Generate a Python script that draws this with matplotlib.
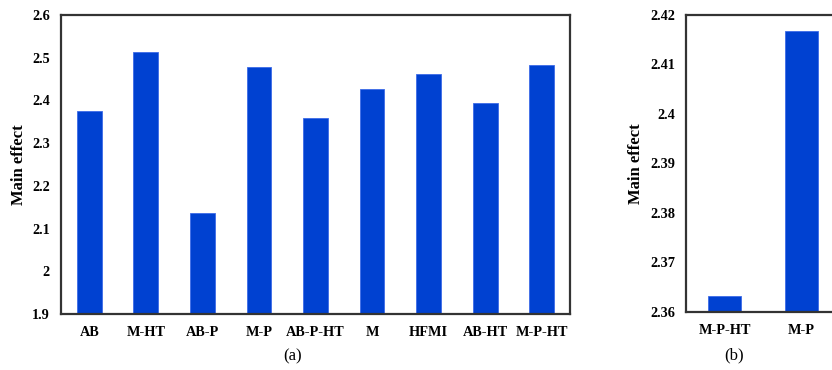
import matplotlib
matplotlib.use("Agg")
import matplotlib.pyplot as plt

# Main effects of each post-treatment condition
cats_a = ["AB", "M-HT", "AB-P", "M-P", "AB-P-HT", "M", "HFMI", "AB-HT", "M-P-HT"]
vals_a = [2.375, 2.513, 2.136, 2.479, 2.358, 2.426, 2.463, 2.394, 2.483]
yticks_a = [1.9, 2.0, 2.1, 2.2, 2.3, 2.4, 2.5, 2.6]
yticklabels_a = ["1.9", "2", "2.1", "2.2", "2.3", "2.4", "2.5", "2.6"]

cats_b = ["M-P-HT", "M-P"]
vals_b = [2.3633, 2.4168]
yticks_b = [2.36, 2.37, 2.38, 2.39, 2.40, 2.41, 2.42]
yticklabels_b = ["2.36", "2.37", "2.38", "2.39", "2.4", "2.41", "2.42"]

BAR = "#0041D1"
SPINE = "#333333"
W, H = 832, 370

plt.rcParams["font.family"] = ["Liberation Serif", "DejaVu Serif"]

fig = plt.figure(figsize=(W / 100, H / 100), dpi=100)


def px_axes(x0, y0, x1, y1):
    return fig.add_axes([x0 / W, 1 - y1 / H, (x1 - x0) / W, (y1 - y0) / H])


def style(ax):
    for s in ax.spines.values():
        s.set_color(SPINE)
        s.set_linewidth(1.6)
    ax.tick_params(length=0, labelsize=10.3)
    ax.tick_params(axis="y", pad=8)
    ax.tick_params(axis="x", pad=9)
    for lab in ax.get_xticklabels() + ax.get_yticklabels():
        lab.set_fontweight("bold")
    ax.set_ylabel("Main effect", fontsize=12, fontweight="bold", labelpad=4)


# (a)
ax1 = px_axes(61, 15, 570, 314)
ax1.bar(range(len(cats_a)), vals_a, width=0.44, color=BAR, edgecolor="#3D6BE8", linewidth=0.6)
ax1.set_xlim(-0.5, len(cats_a) - 0.5)
ax1.set_ylim(1.9, 2.6)
ax1.set_yticks(yticks_a)
ax1.set_yticklabels(yticklabels_a)
ax1.set_xticks(range(len(cats_a)))
ax1.set_xticklabels(cats_a)
style(ax1)

# (b) -- axes run past the right edge of the figure
ax2 = px_axes(686, 15, 917, 312)
ax2.bar(range(len(cats_b)), vals_b, width=0.42, color=BAR, edgecolor="#3D6BE8", linewidth=0.6)
ax2.set_xlim(-0.5, 2.5)
ax2.set_ylim(2.36, 2.42)
ax2.set_yticks(yticks_b)
ax2.set_yticklabels(yticklabels_b)
ax2.set_xticks(range(len(cats_b)))
ax2.set_xticklabels(cats_b)
style(ax2)

fig.text(293 / W, 1 - 356 / H, "(a)", ha="center", va="center", fontsize=12)
fig.text(734 / W, 1 - 355 / H, "(b)", ha="center", va="center", fontsize=12)

fig.savefig("out.png", dpi=100)
